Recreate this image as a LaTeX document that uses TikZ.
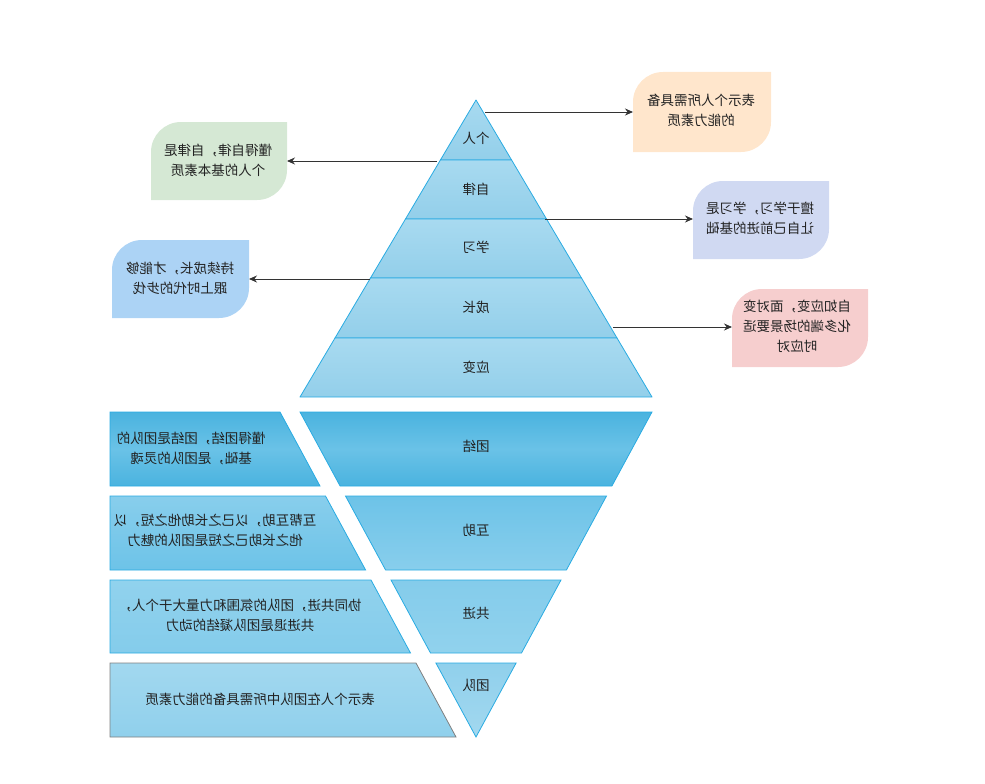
\documentclass[tikz,border=0pt]{standalone}
\usepackage{fontspec}
\newfontfamily\cjk{Noto Sans CJK SC}
\usetikzlibrary{arrows.meta}

\definecolor{linieblau}{HTML}{29ABE2}
\definecolor{pfeilgrau}{HTML}{333333}
\definecolor{textgrau}{HTML}{222222}
\definecolor{orangeblatt}{HTML}{FFE6CC}
\definecolor{gruenblatt}{HTML}{D5E8D4}
\definecolor{lilablatt}{HTML}{D0D9F2}
\definecolor{blaublatt}{HTML}{ACD3F5}
\definecolor{rosablatt}{HTML}{F6CECE}
\definecolor{pyroben}{HTML}{A8DAF0}
\definecolor{pyrunten}{HTML}{93CFEA}
\definecolor{reihe1}{HTML}{4AB3DF}
\definecolor{reihe1mitte}{HTML}{6AC2E7}
\definecolor{reihe2oben}{HTML}{88CEEC}
\definecolor{reihe2unten}{HTML}{6DC3E8}
\definecolor{reihe3oben}{HTML}{91D2ED}
\definecolor{reihe3unten}{HTML}{84CCEB}
\definecolor{reihe4oben}{HTML}{A2D8EF}
\definecolor{reihe4unten}{HTML}{90D0EC}

% gespiegelter Text
\newcommand{\spiegel}[1]{\reflectbox{\begin{tabular}{@{}c@{}}#1\end{tabular}}}

\tikzset{
  schrift/.style={font=\cjk\fontsize{13.5}{20}\selectfont, text=textgrau, inner sep=0pt},
  pfeil/.style={draw=pfeilgrau, line width=0.9pt, -{Stealth[length=8pt,width=7pt]}},
  ebene/.style={draw=linieblau, line width=0.8pt, line join=round, top color=pyroben, bottom color=pyrunten},
  reihe/.style 2 args={draw=linieblau, line width=0.8pt, top color=#1, bottom color=#2},
}

\begin{document}
\begin{tikzpicture}[x=1pt,y=-1pt]
  \useasboundingbox (0,0) rectangle (985,784);

  % Pyramide oben
  \draw[ebene] (476,100) -- (511.6,160) -- (440.4,160) -- cycle;
  \draw[ebene] (440.4,160) -- (511.6,160) -- (546.5,219) -- (405.5,219) -- cycle;
  \draw[ebene] (405.5,219) -- (546.5,219) -- (581.5,278) -- (370.5,278) -- cycle;
  \draw[ebene] (370.5,278) -- (581.5,278) -- (617,338) -- (335,338) -- cycle;
  \draw[ebene] (335,338) -- (617,338) -- (652,397) -- (300,397) -- cycle;

  \node[schrift] (geber) at (476,139) {\spiegel{个人}};
  \node[schrift] (zucht) at (476,190) {\spiegel{自律}};
  \node[schrift] (lernen) at (476,248) {\spiegel{学习}};
  \node[schrift] (wachsen) at (476,308) {\spiegel{成长}};
  \node[schrift] (anpassen) at (476,368) {\spiegel{应变}};

  % Blaetter mit Erklaerungen
  \fill[orangeblatt] (633,152) [rounded corners=30pt] -- (633,72) [sharp corners] -- (771,72) [rounded corners=30pt] -- (771,152) [sharp corners] -- cycle;
  \fill[gruenblatt] (151,200) [rounded corners=30pt] -- (151,122) [sharp corners] -- (287,122) [rounded corners=30pt] -- (287,200) [sharp corners] -- cycle;
  \fill[lilablatt] (693,259) [rounded corners=30pt] -- (693,181) [sharp corners] -- (829,181) [rounded corners=30pt] -- (829,259) [sharp corners] -- cycle;
  \fill[blaublatt] (112,318) [rounded corners=30pt] -- (112,240) [sharp corners] -- (249,240) [rounded corners=30pt] -- (249,318) [sharp corners] -- cycle;
  \fill[rosablatt] (732,367) [rounded corners=30pt] -- (732,289) [sharp corners] -- (868,289) [rounded corners=30pt] -- (868,367) [sharp corners] -- cycle;

  \node[schrift] (geberText) at (701,111) {\spiegel{表示个人所需具备\\的能力素质}};
  \node[schrift] (zuchtText) at (218,161) {\spiegel{懂得自律，自律是\\个人的基本素质}};
  \node[schrift] (lernenText) at (760,219) {\spiegel{擅于学习，学习是\\让自己前进的基础}};
  \node[schrift] (wachsenText) at (180,279) {\spiegel{持续成长，才能够\\跟上时代的步伐}};
  \node[schrift] (anpassenText) at (797,327) {\spiegel{自如应变，面对变\\化多端的场景要适\\时应对}};

  % Pfeile
  \coordinate (g1) at (485,112);  \coordinate (g2) at (633,112);
  \coordinate (z1) at (437,161);  \coordinate (z2) at (287,161);
  \coordinate (l1) at (545,219);  \coordinate (l2) at (693,219);
  \coordinate (w1) at (370,279);  \coordinate (w2) at (249,279);
  \coordinate (a1) at (613,327);  \coordinate (a2) at (732,327);
  \draw[pfeil] (g1) -- (g2);
  \draw[pfeil] (z1) -- (z2);
  \draw[pfeil] (l1) -- (l2);
  \draw[pfeil] (w1) -- (w2);
  \draw[pfeil] (a1) -- (a2);

  % Pyramide unten
  \draw[draw=linieblau, line width=0.8pt, top color=reihe1, bottom color=reihe1, middle color=reihe1mitte] (300,412) -- (652,412) -- (611.9,486) -- (340.1,486) -- cycle;
  \draw[draw=linieblau, line width=0.8pt, top color=reihe1, bottom color=reihe1, middle color=reihe1mitte] (110,412) -- (280,412) -- (320,486) -- (110,486) -- cycle;
  \draw[reihe={reihe2unten}{reihe2oben}] (345.5,496) -- (606.5,496) -- (566.4,570) -- (385.6,570) -- cycle;
  \draw[reihe={reihe2oben}{reihe2unten}] (110,496) -- (325.5,496) -- (365.6,570) -- (110,570) -- cycle;
  \draw[reihe={reihe3unten}{reihe3oben}] (391,580) -- (561,580) -- (521.5,653) -- (430.5,653) -- cycle;
  \draw[reihe={reihe3oben}{reihe3unten}] (110,580) -- (371,580) -- (410.5,653) -- (110,653) -- cycle;
  \draw[reihe={reihe4unten}{reihe4oben}] (435.9,663) -- (516.1,663) -- (476,737) -- cycle;
  \draw[draw=gray, line width=0.8pt, top color=reihe4oben, bottom color=reihe4unten] (110,663) -- (416,663) -- (456,737) -- (110,737) -- cycle;

  \node[schrift] (einheit) at (476,447) {\spiegel{团结}};
  \node[schrift] (hilfe) at (476,531) {\spiegel{互助}};
  \node[schrift] (fortschritt) at (476,614) {\spiegel{共进}};
  \node[schrift] (team) at (476,686) {\spiegel{团队}};

  \node[schrift] (einheitText) at (191,449) {\spiegel{懂得团结，团结是团队的\\基础，是团队的灵魂}};
  \node[schrift] (hilfeText) at (215,531) {\spiegel{互帮互助，以己之长助他之短，以\\他之长助己之短是团队的魅力}};
  \node[schrift] (fortschrittText) at (240,616) {\spiegel{协同共进，团队的氛围和力量大于个人，\\共进退是团队凝结的动力}};
  \node[schrift] (teamText) at (260,700) {\spiegel{表示个人在团队中所需具备的能力素质}};
\end{tikzpicture}
\end{document}
